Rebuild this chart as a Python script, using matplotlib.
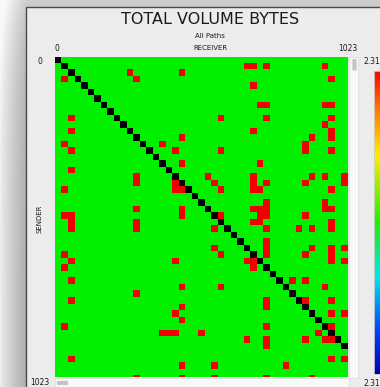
import numpy as np
import matplotlib
matplotlib.use("Agg")
import matplotlib.pyplot as plt
from matplotlib.colors import ListedColormap, LinearSegmentedColormap
from matplotlib.patches import Rectangle, FancyBboxPatch

# canvas size in pixels
W, H = 380, 387

# matrix extent (visible cells)
n_receivers = 45
n_senders = 50

# sender (row) / receiver (column) pairs flagged red
red_rows = [1, 1, 1, 1,
            2, 2,
            3, 3, 3,
            4,
            7, 7, 7, 7,
            9, 9, 9, 9,
            10,
            11, 11, 11,
            12, 12, 12,
            13, 13, 13,
            14, 14, 14, 14, 14,
            16, 16,
            17,
            18, 18, 18, 18, 18, 18,
            19, 19, 19, 19, 19, 19, 19,
            20, 20, 20, 20, 20, 20, 20,
            22, 22,
            23, 23, 23, 23, 23, 23, 23,
            24, 24, 24, 24, 24, 24, 24,
            25, 25, 25, 25, 25,
            26, 26, 26, 26, 26, 26, 26,
            28,
            29, 29, 29, 29, 29,
            30, 30, 30, 30, 30,
            31, 31, 31, 31, 31, 31,
            32, 32,
            34, 34, 34,
            35, 35, 35,
            36,
            37, 37, 37, 37,
            38, 38,
            39, 39, 39,
            40,
            41, 41, 41,
            42, 42, 42, 42, 42,
            43, 43, 43, 43, 43,
            44,
            46, 46, 46,
            47, 47, 47,
            49, 49, 49, 49, 49]
red_cols = [29, 30, 32, 41,
            11, 19,
            1, 12, 42,
            30,
            31, 32, 41, 42,
            2, 25, 32, 42,
            41,
            2, 30, 42,
            19, 39, 42,
            1, 16, 38,
            2, 18, 25, 38, 42,
            19, 31,
            2,
            12, 23, 30, 39, 41, 44,
            12, 18, 24, 30, 32, 38, 44,
            1, 18, 19, 25, 30, 31, 42,
            32, 41,
            12, 19, 30, 31, 32, 41, 42,
            1, 2, 19, 25, 31, 32, 38,
            2, 12, 30, 31, 42,
            2, 12, 24, 32, 37, 39, 42,
            32,
            24, 32, 39, 42, 44,
            1, 25, 32, 38, 42,
            2, 18, 29, 30, 42, 44,
            1, 30,
            2, 36, 38,
            19, 25, 41,
            12,
            2, 32, 38, 42,
            19, 32,
            18, 42, 44,
            19,
            1, 32, 42,
            16, 17, 18, 22, 40,
            29, 32, 38, 41, 42,
            32,
            2, 42, 44,
            19, 24, 35,
            12, 19, 24, 32, 39]

first_index = 0
last_index = 1023
scale_top = "2.31"
scale_bottom = "2.31"

# cell states: 0 = ok (green), 1 = flagged (red), 2 = self (black)
grid = np.zeros((n_senders, n_receivers))
grid[red_rows, red_cols] = 1
for i in range(min(n_senders, n_receivers)):
    grid[i, i] = 2
cell_cmap = ListedColormap(['#00f000', '#f20000', '#000000'])

fig = plt.figure(figsize=(W / 100, H / 100), dpi=100)
fig.patch.set_facecolor('#ececec')


def fig_box(x0, y0, x1, y1):
    # pixel box (top-left origin) -> figure fraction rect
    return [x0 / W, 1 - y1 / H, (x1 - x0) / W, (y1 - y0) / H]


# backdrop: window shadow on the left, panel with border
bg = fig.add_axes([0, 0, 1, 1])
bg.set_xlim(0, W)
bg.set_ylim(H, 0)
bg.axis('off')
xx, yy = np.meshgrid(np.arange(W), np.arange(H))
shade = 0.93 - 0.25 * np.clip(xx / 26.0, 0, 1) ** 0.8
shade = shade + 0.12 * np.exp(-yy / 60.0)
shade = np.clip(shade, 0, 0.97)
bg.imshow(shade, cmap='gray', vmin=0, vmax=1, extent=(0, W, H, 0),
          aspect='auto', interpolation='bilinear')
bg.add_patch(Rectangle((26, 7), W - 26 + 2, H - 7 + 2, facecolor='#ececec',
                       edgecolor='#4a4a4a', lw=1.0))

# scroll bars
bg.add_patch(Rectangle((349, 57), 9, 321, facecolor='#f8f8f8', edgecolor='#dedede', lw=0.6))
bg.add_patch(FancyBboxPatch((353, 59.5), 3, 10.5, boxstyle='round,pad=0.6,rounding_size=1.5',
                            facecolor='#c4c4c4', edgecolor='none'))
bg.add_patch(Rectangle((55, 378), 294, 10, facecolor='#f8f8f8', edgecolor='#dedede', lw=0.6))
bg.add_patch(FancyBboxPatch((57.5, 381.5), 10, 3, boxstyle='round,pad=0.6,rounding_size=1.5',
                            facecolor='#c4c4c4', edgecolor='none'))

# the matrix itself
cell = 6.5
ax = fig.add_axes(fig_box(55, 57, 55 + cell * n_receivers, 377.3))
ax.imshow(grid, cmap=cell_cmap, vmin=0, vmax=2, interpolation='nearest',
          extent=(0, n_receivers, n_senders, 0), aspect='auto')
ax.set_xlim(0, n_receivers)
ax.set_ylim((377.3 - 57) / cell, 0)
ax.axis('off')

# colour scale on the right
cax = fig.add_axes(fig_box(374, 70.5, 383, 374))
scale_cmap = LinearSegmentedColormap.from_list(
    'scale', [(0.0, '#ff0000'), (0.13, '#ff7a00'), (0.28, '#ffee00'),
              (0.5, '#22ee00'), (0.68, '#00e8e8'), (0.86, '#0040ff'),
              (1.0, '#0000b0')])
cax.imshow(np.linspace(0, 1, 256)[:, None], cmap=scale_cmap, aspect='auto',
           interpolation='bilinear')
cax.set_xticks([])
cax.set_yticks([])
for s in cax.spines.values():
    s.set_color('#cfcfcf')
    s.set_linewidth(0.6)

# labels
txt = dict(color='#1a1a1a', family='DejaVu Sans')
fig.text(210 / W, 1 - 19 / H, 'TOTAL VOLUME BYTES', ha='center', va='center',
         fontsize=11.5, **txt)
fig.text(210 / W, 1 - 36 / H, 'All Paths', ha='center', va='center', fontsize=5, **txt)
fig.text(210 / W, 1 - 48.5 / H, 'RECEIVER', ha='center', va='center', fontsize=5, **txt)
fig.text(57 / W, 1 - 48.5 / H, str(first_index), ha='center', va='center', fontsize=5.5, **txt)
fig.text(348 / W, 1 - 48.5 / H, str(last_index), ha='center', va='center', fontsize=5.5, **txt)
fig.text(40 / W, 1 - 62 / H, str(first_index), ha='center', va='center', fontsize=5.5, **txt)
fig.text(40 / W, 1 - 382.5 / H, str(last_index), ha='center', va='center', fontsize=5.5, **txt)
fig.text(40 / W, 1 - 219 / H, 'SENDER', ha='center', va='center', rotation=90,
         fontsize=5, **txt)
fig.text(363 / W, 1 - 62 / H, scale_top, ha='left', va='center', fontsize=5.5, **txt)
fig.text(363 / W, 1 - 383 / H, scale_bottom, ha='left', va='center', fontsize=5.5, **txt)

fig.savefig('out.png', dpi=100, facecolor=fig.get_facecolor())
